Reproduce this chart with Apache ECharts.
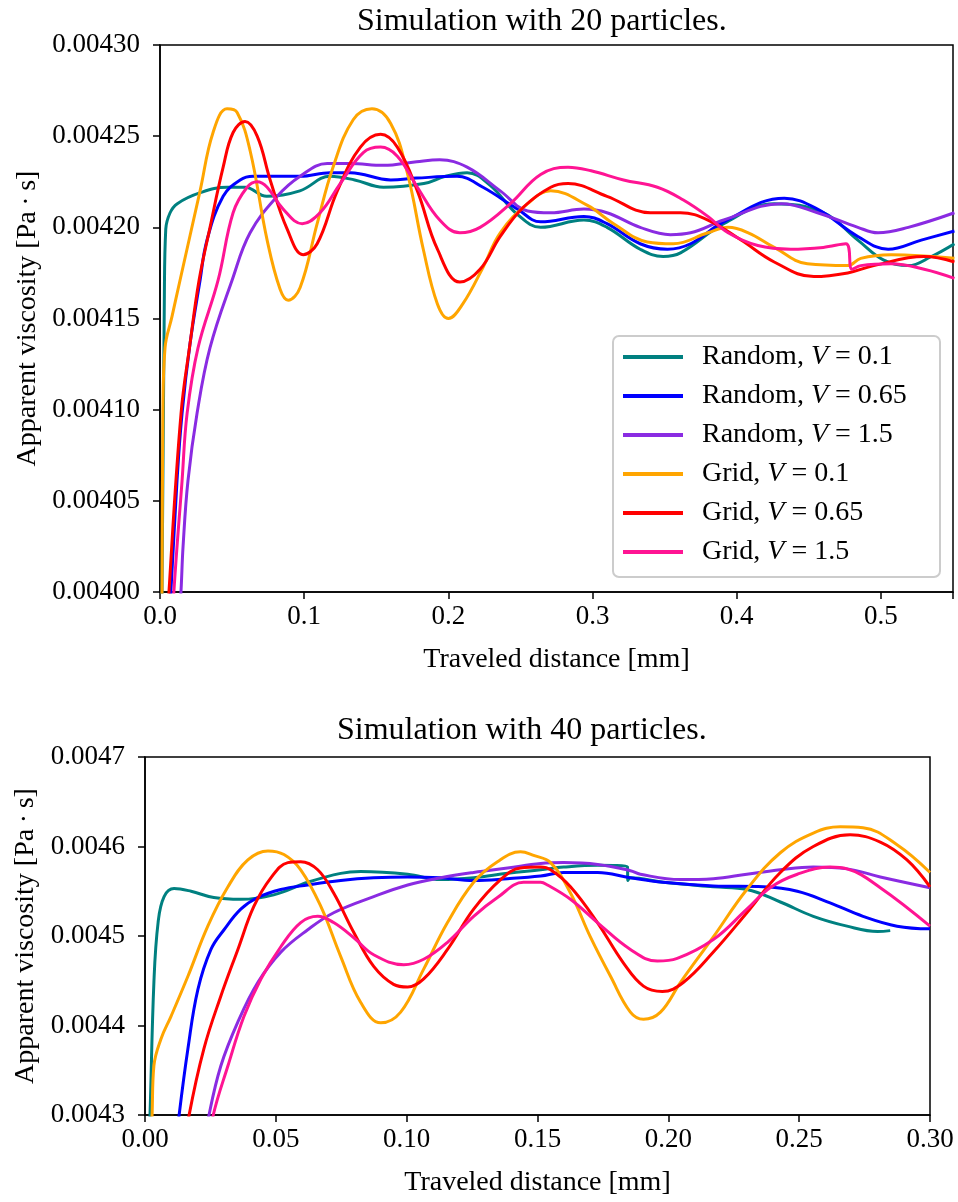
<!DOCTYPE html>
<html>
<head>
<meta charset="utf-8">
<script src="https://cdn.jsdelivr.net/npm/echarts@6/dist/echarts.min.js"></script>
<style>html,body{margin:0;padding:0;background:#fff}#c{width:958px;height:1202px}</style>
</head>
<body>
<div id="c"></div>
<script>
// ---------- Data (x: traveled distance [mm], y: apparent viscosity [Pa·s]) ----------
const seriesNames = ['Random, V = 0.1','Random, V = 0.65','Random, V = 1.5','Grid, V = 0.1','Grid, V = 0.65','Grid, V = 1.5'];
const legendPrefix = ['Random, ','Random, ','Random, ','Grid, ','Grid, ','Grid, '];
const legendValue = ['0.1','0.65','1.5','0.1','0.65','1.5'];
const colors = ['#008080','#0000ff','#8a2be2','#ffa500','#ff0000','#ff1493'];

const topXTicks = [0.0,0.1,0.2,0.3,0.4,0.5];
const botXTicks = [0.00,0.05,0.10,0.15,0.20,0.25,0.30];

// Simulation with 20 particles
const top_random_01 = [[0.0007,0.003974],[0.0014,0.004001],[0.003,0.004160],[0.004,0.004199],[0.007,0.004208],[0.012,0.004213],[0.028,0.004219],[0.0465,0.004222],[0.059,0.004222],[0.074,0.004217],[0.097,0.004220],[0.118,0.004228],[0.135,0.004226],[0.155,0.004222],[0.183,0.004224],[0.198,0.004228],[0.213,0.004230],[0.229,0.004223],[0.248,0.004207],[0.264,0.004200],[0.294,0.004204],[0.310,0.004200],[0.333,0.004188],[0.349,0.004184],[0.361,0.004186],[0.391,0.004202],[0.426,0.004213],[0.460,0.004208],[0.484,0.004193],[0.502,0.004182],[0.519,0.004179],[0.535,0.004184],[0.551,0.004191]];
const top_random_065 = [[0.006,0.003985],[0.0076,0.004001],[0.0118,0.004061],[0.0153,0.004098],[0.0208,0.004136],[0.0278,0.004171],[0.0326,0.004193],[0.0438,0.004217],[0.0556,0.004226],[0.0646,0.004228],[0.0972,0.004228],[0.118,0.004230],[0.132,0.004230],[0.160,0.004226],[0.178,0.004227],[0.206,0.004228],[0.224,0.004222],[0.248,0.004210],[0.264,0.004203],[0.294,0.004206],[0.310,0.004202],[0.333,0.004191],[0.352,0.004188],[0.368,0.004191],[0.391,0.004203],[0.433,0.004216],[0.456,0.004210],[0.484,0.004195],[0.505,0.004188],[0.528,0.004193],[0.551,0.004198]];
const top_random_15 = [[0.0125,0.003974],[0.0146,0.004001],[0.0160,0.004025],[0.0194,0.004061],[0.0257,0.004098],[0.0347,0.004134],[0.050,0.004171],[0.0625,0.004197],[0.0813,0.004217],[0.0972,0.004228],[0.116,0.004235],[0.132,0.004235],[0.155,0.004234],[0.178,0.004236],[0.194,0.004237],[0.213,0.004233],[0.236,0.004220],[0.255,0.004209],[0.271,0.004208],[0.294,0.004210],[0.310,0.004208],[0.333,0.004200],[0.354,0.004196],[0.368,0.004197],[0.391,0.004204],[0.431,0.004213],[0.456,0.004208],[0.484,0.004200],[0.498,0.004197],[0.519,0.004200],[0.551,0.004208]];
const top_grid_01 = [[0.0007,0.003974],[0.0014,0.004001],[0.002,0.004098],[0.0035,0.004134],[0.0083,0.004151],[0.0139,0.004171],[0.0278,0.004220],[0.0368,0.004252],[0.0465,0.004265],[0.0535,0.004263],[0.0625,0.004242],[0.0743,0.004193],[0.0833,0.004166],[0.0889,0.004160],[0.0972,0.004167],[0.109,0.004202],[0.120,0.004233],[0.134,0.004259],[0.147,0.004265],[0.160,0.004257],[0.1715,0.004230],[0.1826,0.004188],[0.1924,0.004158],[0.200,0.004150],[0.210,0.004158],[0.224,0.004178],[0.236,0.004197],[0.255,0.004213],[0.271,0.004220],[0.2965,0.004212],[0.3146,0.004202],[0.338,0.004192],[0.356,0.004191],[0.380,0.004197],[0.394,0.004200],[0.408,0.004197],[0.426,0.004189],[0.449,0.004180],[0.477,0.004179],[0.486,0.004183],[0.507,0.004185],[0.551,0.004183]];
const top_grid_065 = [[0.0049,0.003974],[0.0063,0.004001],[0.0146,0.004098],[0.0208,0.004136],[0.0271,0.004171],[0.0347,0.004200],[0.0438,0.004233],[0.0507,0.004252],[0.059,0.004258],[0.0674,0.004250],[0.0764,0.004226],[0.0882,0.004199],[0.0993,0.004185],[0.109,0.004191],[0.123,0.004220],[0.139,0.004244],[0.153,0.004251],[0.1646,0.004244],[0.1785,0.004220],[0.1924,0.004188],[0.208,0.004170],[0.222,0.004177],[0.236,0.004195],[0.252,0.004211],[0.271,0.004222],[0.283,0.004224],[0.310,0.004217],[0.340,0.004208],[0.361,0.004208],[0.380,0.004204],[0.403,0.004193],[0.426,0.004181],[0.4535,0.004173],[0.477,0.004175],[0.495,0.004179],[0.530,0.004184],[0.551,0.004181]];
const top_grid_15 = [[0.0083,0.003974],[0.0097,0.004001],[0.0153,0.004061],[0.0188,0.004098],[0.0264,0.004134],[0.0403,0.004171],[0.0507,0.004208],[0.0604,0.004222],[0.0674,0.004225],[0.0743,0.004222],[0.0854,0.004210],[0.0986,0.004202],[0.111,0.004208],[0.125,0.004224],[0.141,0.004241],[0.153,0.004244],[0.1646,0.004239],[0.1785,0.004222],[0.194,0.004204],[0.208,0.004197],[0.222,0.004200],[0.243,0.004213],[0.264,0.004229],[0.283,0.004233],[0.299,0.004231],[0.3215,0.004226],[0.345,0.004222],[0.363,0.004215],[0.380,0.004206],[0.394,0.004197],[0.4146,0.004190],[0.4375,0.004188],[0.460,0.004189],[0.4757,0.004191],[0.480,0.004177],[0.486,0.004179],[0.507,0.004180],[0.530,0.004177],[0.551,0.004172]];

// Simulation with 40 particles
const bot_random_01 = [[0.0015,0.004273],[0.0019,0.004299],[0.0034,0.004448],[0.005,0.004515],[0.0073,0.004544],[0.0111,0.004553],[0.0176,0.004550],[0.0263,0.004543],[0.0366,0.004541],[0.0492,0.004546],[0.0622,0.004560],[0.0748,0.004570],[0.0824,0.004572],[0.1004,0.004569],[0.113,0.004563],[0.1256,0.004565],[0.1386,0.004570],[0.1512,0.004574],[0.160,0.004577],[0.173,0.004579],[0.1844,0.004577],[0.1845,0.004562],[0.1855,0.004565],[0.198,0.004560],[0.2172,0.004555],[0.230,0.004552],[0.2428,0.004538],[0.2554,0.004522],[0.2683,0.004511],[0.280,0.004505],[0.2848,0.004506]];
const bot_random_065 = [[0.0122,0.004273],[0.013,0.004299],[0.0164,0.004374],[0.0202,0.004440],[0.0252,0.004485],[0.0302,0.004507],[0.0366,0.004530],[0.0431,0.004543],[0.0519,0.004552],[0.0622,0.004557],[0.0748,0.004562],[0.0874,0.004565],[0.1004,0.004566],[0.113,0.004565],[0.1256,0.004562],[0.1386,0.004564],[0.1512,0.004567],[0.160,0.004571],[0.173,0.004571],[0.1855,0.004565],[0.198,0.004560],[0.2172,0.004556],[0.2363,0.004555],[0.2493,0.004550],[0.2618,0.004537],[0.2744,0.004522],[0.2874,0.004511],[0.300,0.004508]];
const bot_random_15 = [[0.0233,0.004273],[0.0244,0.004299],[0.029,0.004355],[0.0355,0.004404],[0.0431,0.004448],[0.0519,0.004482],[0.0622,0.004507],[0.0721,0.004526],[0.0874,0.004544],[0.1004,0.004557],[0.113,0.004565],[0.1256,0.004571],[0.1386,0.004576],[0.1512,0.004581],[0.160,0.004582],[0.173,0.004580],[0.1855,0.004573],[0.1893,0.004569],[0.2046,0.004563],[0.2172,0.004564],[0.230,0.004569],[0.2428,0.004574],[0.2554,0.004577],[0.2683,0.004575],[0.281,0.004566],[0.300,0.004554]];
const bot_grid_01 = [[0.0023,0.004273],[0.0027,0.004299],[0.0034,0.004355],[0.0061,0.004385],[0.0099,0.004410],[0.0164,0.004455],[0.024,0.004511],[0.0317,0.004555],[0.0393,0.004585],[0.047,0.004595],[0.0531,0.004591],[0.0595,0.004574],[0.0672,0.004533],[0.0748,0.004477],[0.0824,0.004426],[0.0901,0.004403],[0.0977,0.004415],[0.1065,0.004463],[0.1156,0.004515],[0.1256,0.004560],[0.1347,0.004583],[0.1435,0.004594],[0.1485,0.004590],[0.155,0.004582],[0.1626,0.004548],[0.1702,0.004499],[0.1779,0.004455],[0.1855,0.004415],[0.1905,0.004407],[0.197,0.004415],[0.2046,0.004448],[0.2172,0.004499],[0.230,0.004552],[0.2428,0.004593],[0.2554,0.004615],[0.2657,0.004622],[0.2744,0.004621],[0.2874,0.004602],[0.300,0.004571]];
const bot_grid_065 = [[0.016,0.004273],[0.0168,0.004299],[0.0225,0.004374],[0.029,0.004433],[0.0355,0.004485],[0.0416,0.004533],[0.0481,0.004565],[0.0546,0.004582],[0.0595,0.004583],[0.066,0.004574],[0.0721,0.004548],[0.0798,0.004504],[0.0874,0.004466],[0.095,0.004446],[0.1004,0.004443],[0.1065,0.004452],[0.1156,0.004485],[0.1256,0.004530],[0.1359,0.004563],[0.1435,0.004576],[0.1512,0.004577],[0.155,0.004574],[0.1626,0.004555],[0.1729,0.004515],[0.1828,0.004470],[0.1905,0.004444],[0.1977,0.004438],[0.2057,0.004448],[0.2172,0.004482],[0.230,0.004526],[0.2428,0.004571],[0.2554,0.004600],[0.2695,0.004613],[0.281,0.004605],[0.2912,0.004585],[0.300,0.004555]];
const bot_grid_15 = [[0.0252,0.004273],[0.026,0.004299],[0.0317,0.004355],[0.0378,0.004410],[0.0443,0.004452],[0.0519,0.004488],[0.0595,0.004515],[0.066,0.004522],[0.0721,0.004515],[0.0798,0.004498],[0.0874,0.004479],[0.0989,0.004468],[0.1065,0.004474],[0.1156,0.004493],[0.1256,0.004522],[0.1347,0.004543],[0.1447,0.004560],[0.1512,0.004560],[0.1538,0.004557],[0.1626,0.004541],[0.1729,0.004515],[0.1855,0.004485],[0.1958,0.004472],[0.2034,0.004475],[0.2172,0.004496],[0.230,0.004530],[0.2389,0.004554],[0.2493,0.004569],[0.2618,0.004577],[0.2683,0.004575],[0.281,0.004554],[0.300,0.004511]];

const topData = [top_random_01, top_random_065, top_random_15, top_grid_01, top_grid_065, top_grid_15];
const botData = [bot_random_01, bot_random_065, bot_random_15, bot_grid_01, bot_grid_065, bot_grid_15];

// ---------- Chart ----------
const FONT = '"Liberation Serif", "DejaVu Serif", serif';
const chart = echarts.init(document.getElementById('c'), null, {renderer: 'canvas'});

function isTick(v, ticks) { return ticks.some(t => Math.abs(t - v) < 1e-9); }

function xAxis(gridIndex, max, interval, ticks, digits) {
  return {
    type: 'value', gridIndex, min: 0, max, interval,
    name: 'Traveled distance [mm]', nameLocation: 'middle', nameGap: 54,
    nameTextStyle: {fontFamily: FONT, fontSize: 28, color: '#000'},
    axisLine: {show: true, onZero: false, lineStyle: {color: '#000', width: 1.5}},
    axisTick: {show: true, inside: false, length: 7, lineStyle: {color: '#000', width: 1.5}},
    axisLabel: {margin: 11, fontFamily: FONT, fontSize: 27, color: '#000', showMaxLabel: true,
      formatter: v => isTick(v, ticks) ? v.toFixed(digits) : ''},
    splitLine: {show: false}
  };
}
function yAxis(gridIndex, min, max, interval, digits, gap) {
  return {
    type: 'value', gridIndex, min, max, interval,
    name: 'Apparent viscosity [Pa\u2009\u00b7\u2009s]', nameLocation: 'middle', nameGap: gap,
    nameTextStyle: {fontFamily: FONT, fontSize: 28, color: '#000'},
    axisLine: {show: true, onZero: false, lineStyle: {color: '#000', width: 1.5}},
    axisTick: {show: true, inside: false, length: 7, lineStyle: {color: '#000', width: 1.5}},
    axisLabel: {margin: 20, fontFamily: FONT, fontSize: 27, color: '#000',
      formatter: v => v.toFixed(digits)},
    splitLine: {show: false}
  };
}

const series = [];
seriesNames.forEach((n, i) => {
  series.push({name: n, type: 'line', xAxisIndex: 0, yAxisIndex: 0, data: topData[i],
    showSymbol: false, symbol: 'none', smooth: 0.4, clip: true,
    lineStyle: {color: colors[i], width: 3}, itemStyle: {color: colors[i]}, z: 2 + i});
});
seriesNames.forEach((n, i) => {
  series.push({name: n, type: 'line', xAxisIndex: 1, yAxisIndex: 1, data: botData[i],
    showSymbol: false, symbol: 'none', smooth: 0.4, clip: true,
    lineStyle: {color: colors[i], width: 3}, itemStyle: {color: colors[i]}, z: 2 + i});
});

const option = {
  backgroundColor: '#fff',
  animation: false,
  grid: [
    {left: 160, top: 45, width: 793, height: 547, show: true, borderColor: '#000', borderWidth: 1.5, backgroundColor: 'transparent'},
    {left: 145, top: 757, width: 785, height: 358, show: true, borderColor: '#000', borderWidth: 1.5, backgroundColor: 'transparent'}
  ],
  xAxis: [xAxis(0, 0.55, 0.1, topXTicks, 1), xAxis(1, 0.3, 0.05, botXTicks, 2)],
  yAxis: [yAxis(0, 0.004, 0.0043, 0.00005, 5, 118), yAxis(1, 0.0043, 0.0047, 0.0001, 4, 103)],
  legend: {
    show: true, orient: 'vertical', left: 613, top: 336,
    data: seriesNames,
    padding: [6, 10, 10, 10], itemGap: 9, itemWidth: 60, itemHeight: 4,
    backgroundColor: 'rgba(255,255,255,0.85)', borderColor: '#cccccc', borderWidth: 2, borderRadius: 6,
    icon: 'rect',
    formatter: name => {
      const i = seriesNames.indexOf(name);
      return '{s|}{a|' + legendPrefix[i] + '}{v|V}{a| = ' + legendValue[i] + '}';
    },
    textStyle: {
      width: 242, lineHeight: 30, fontFamily: FONT, fontSize: 28, color: '#000',
      rich: {
        s: {width: 14},
        a: {fontFamily: FONT, fontSize: 28, color: '#000', lineHeight: 30},
        v: {fontFamily: FONT, fontSize: 28, color: '#000', fontStyle: 'italic', lineHeight: 30}
      }
    },
    itemStyle: {borderWidth: 0}
  },
  graphic: [
    {type: 'text', left: 557 - 200, top: 6, style: {text: 'Simulation with 20 particles.', x: 200, y: 0, fontFamily: FONT, fontSize: 32, fill: '#000', textAlign: 'center'}, silent: true},
    {type: 'text', left: 537 - 200, top: 715, style: {text: 'Simulation with 40 particles.', x: 200, y: 0, fontFamily: FONT, fontSize: 32, fill: '#000', textAlign: 'center'}, silent: true}
  ],
  series
};
chart.setOption(option);
</script>
</body>
</html>
